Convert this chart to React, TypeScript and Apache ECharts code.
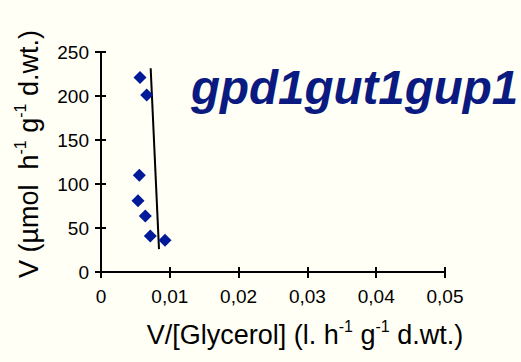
import React, { useEffect, useRef } from "react";
import * as echarts from "echarts";

const xTicks = [0, 0.01, 0.02, 0.03, 0.04, 0.05];
const yTicks = [0, 50, 100, 150, 200, 250];
const pointX = [0.00567, 0.00664, 0.00557, 0.00538, 0.00644, 0.00717, 0.0093];
const pointY = [221, 201, 110, 81, 63.6, 41, 36];
const lineX = [0.00722, 0.00843];
const lineY = [231.5, 26];
const titleText = "gpd1gut1gup1";

const FONT = "'Liberation Sans', Arial, sans-serif";

export default function App() {
  const ref = useRef<HTMLDivElement>(null);
  useEffect(() => {
    if (!ref.current) return;
    const chart = echarts.init(ref.current, null, { renderer: "svg" });
    const fmt = (v: number) => (v === 0 ? "0" : v.toFixed(2).replace(".", ","));
    const xBase = () => ({
      type: "value",
      min: xTicks[0],
      max: xTicks[xTicks.length - 1],
      interval: 0.01,
      splitLine: { show: false },
    });
    const yBase = () => ({
      type: "value",
      min: yTicks[0],
      max: yTicks[yTicks.length - 1],
      interval: 50,
      splitLine: { show: false },
    });
    const rich = {
      n: { fontSize: 27, fontFamily: FONT, color: "#000", lineHeight: 30, verticalAlign: "bottom" },
      s: { fontSize: 16, fontFamily: FONT, color: "#000", lineHeight: 30, verticalAlign: "top" },
    };
    chart.setOption({
      animation: false,
      backgroundColor: "#fffff5",
      grid: { left: 101, right: 76, top: 52, bottom: 90 },
      xAxis: [
        {
          ...xBase(),
          position: "bottom",
          axisLine: { show: true, lineStyle: { color: "#000", width: 2 } },
          axisTick: { show: true, length: 6, lineStyle: { color: "#000", width: 2 } },
          axisLabel: {
            show: true,
            margin: 15,
            fontSize: 19,
            fontFamily: FONT,
            color: "#000",
            formatter: fmt,
          },
        },
        {
          ...xBase(),
          position: "bottom",
          axisLine: { show: false },
          axisTick: { show: true, inside: true, length: 5, lineStyle: { color: "#000", width: 2 } },
          axisLabel: { show: false },
        },
      ],
      yAxis: [
        {
          ...yBase(),
          position: "left",
          axisLine: { show: true, lineStyle: { color: "#000", width: 2 } },
          axisTick: { show: true, length: 6, lineStyle: { color: "#000", width: 2 } },
          axisLabel: {
            show: true,
            margin: 12,
            fontSize: 19,
            fontFamily: FONT,
            color: "#000",
          },
        },
        {
          ...yBase(),
          position: "left",
          axisLine: { show: false },
          axisTick: { show: true, inside: true, length: 5, lineStyle: { color: "#000", width: 2 } },
          axisLabel: { show: false },
        },
      ],
      series: [
        {
          type: "line",
          data: lineX.map((x, i) => [x, lineY[i]]),
          showSymbol: false,
          symbol: "none",
          lineStyle: { color: "#000", width: 2 },
          z: 2,
        },
        {
          type: "scatter",
          data: pointX.map((x, i) => [x, pointY[i]]),
          symbol: "diamond",
          symbolSize: 13,
          itemStyle: { color: "#001a99", opacity: 1 },
          z: 3,
        },
      ],
      graphic: [
        {
          type: "text",
          x: 191,
          y: 87,
          style: {
            text: titleText,
            fontSize: 47.5,
            fontWeight: "bold",
            fontStyle: "italic",
            fontFamily: FONT,
            fill: "#0a1a80",
            align: "left",
            verticalAlign: "middle",
          },
        },
        {
          type: "text",
          x: 305,
          y: 333,
          style: {
            text: "{n|V/[Glycerol] (l. h}{s|-1}{n| g}{s|-1}{n| d.wt.)}",
            align: "center",
            verticalAlign: "middle",
            rich,
          },
        },
        {
          type: "text",
          x: 27,
          y: 154,
          rotation: Math.PI / 2,
          style: {
            text: "{n|V (µmol  h}{s|-1}{n| g}{s|-1}{n| d.wt.)}",
            align: "center",
            verticalAlign: "middle",
            rich,
          },
        },
      ],
    });
    return () => chart.dispose();
  }, []);
  return (
    <div
      ref={ref}
      style={{ position: "fixed", left: 0, top: 0, width: 521, height: 362 }}
    />
  );
}
